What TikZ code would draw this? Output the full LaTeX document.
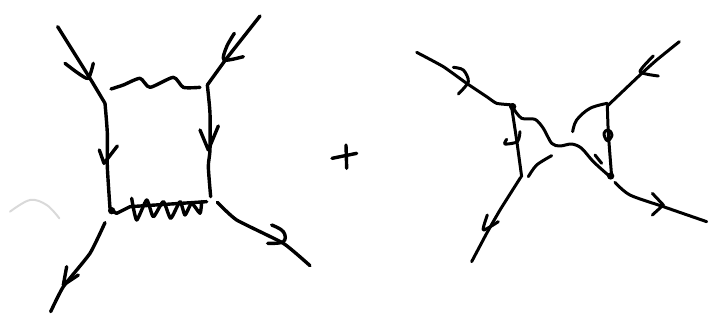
\documentclass[tikz,border=0pt]{standalone}
\tikzset{
  ink/.style={line width=3.4pt,line cap=round,line join=round,black},
  inkthin/.style={line width=3pt,line cap=round,line join=round,black},
  smudge/.style={line width=2pt,line cap=round,black!15},
  blob/.style={fill=black,draw=none},
}
\begin{document}
\begin{tikzpicture}[x=1pt,y=-1pt]
\useasboundingbox (0,0) rectangle (716,327);
% left diagram
\begin{scope}[scale=1/3]
\draw[smudge] plot[smooth,tension=.6] coordinates {(30,635) (90,600) (140,615) (178,655)};
\draw[ink] plot[smooth,tension=.2] coordinates {(173,80) (270,235) (315,310)};
\draw[ink] plot[smooth,tension=.4] coordinates {(195,190) (235,220) (265,235) (280,190)};
\draw[ink] plot[smooth,tension=.4] coordinates {(315,310) (322,400) (322,500) (330,625)};
\draw[ink] (352,438) -- (312,490) -- (298,450);
\draw[ink] plot[smooth,tension=.2] coordinates {(780,48) (680,175) (622,255)};
\draw[ink] plot[smooth,tension=.5] coordinates {(703,100) (680,140) (672,180) (730,170)};
\draw[ink] plot[smooth,tension=.4] coordinates {(622,255) (630,340) (630,450) (625,500) (632,590)};
\draw[ink] (600,390) -- (625,450) -- (655,378);
\draw[ink] plot[smooth,tension=.4] coordinates {(333,267) (370,255) (420,235) (450,262) (520,232) (550,262) (600,262)};
\draw[ink] (330,630) -- (350,640) -- (390,620) -- (620,605);
\draw[ink] plot[smooth,tension=.35] coordinates {(395,595) (410,660) (440,600) (460,650) (490,605) (512,655) (540,605) (555,645) (575,610) (600,640) (605,605)};
\fill[blob] (335,632) circle (11);
\draw[ink] plot[smooth,tension=.3] coordinates {(315,668) (270,760) (190,860) (152,935)};
\draw[ink] (200,800) -- (190,855) -- (235,825);
\draw[ink] plot[smooth,tension=.3] coordinates {(652,607) (710,660) (850,730) (930,797)};
\draw[ink] plot[smooth,tension=.7] coordinates {(815,675) (850,695) (850,725) (803,730)};
\end{scope}
% plus
\begin{scope}[shift={(320,130)},scale=1/3]
\draw[ink] (36,85) -- (110,70);
\draw[ink] (78,45) -- (80,115);
\end{scope}
% right diagram
\begin{scope}[shift={(400,20)},scale=1/3]
\draw[inkthin] plot[smooth,tension=.3] coordinates {(50,97) (130,140) (200,190) (260,230) (290,250) (340,255)};
\draw[inkthin] plot[smooth,tension=.5] coordinates {(160,142) (190,150) (205,185) (175,222)};
\fill[blob] (338,260) circle (11);
\draw[inkthin] (335,262) -- (350,360) -- (365,470);
\draw[inkthin] plot[smooth,tension=.5] coordinates {(360,335) (352,365) (315,372) (320,358)};
\draw[inkthin] plot[smooth,tension=.5] coordinates {(340,265) (365,295) (405,298) (430,325) (455,370) (480,378) (515,372) (545,385) (580,425) (630,470)};
\draw[inkthin] (585,405) -- (605,430);
\draw[inkthin] plot[smooth,tension=.5] coordinates {(385,470) (410,435) (455,407)};
\draw[inkthin] plot[smooth,tension=.2] coordinates {(362,472) (300,570) (260,640) (215,725)};
\draw[inkthin] plot[smooth,tension=.4] coordinates {(262,585) (250,630) (295,605)};
\draw[inkthin] plot[smooth,tension=.3] coordinates {(838,65) (770,120) (720,165) (622,258)};
\draw[inkthin] plot[smooth,tension=.4] coordinates {(760,108) (720,155) (775,168)};
\draw[inkthin] plot[smooth,tension=.6] coordinates {(622,250) (570,265) (530,300) (518,335)};
\draw[inkthin] plot[smooth,tension=.3] coordinates {(622,258) (625,340) (635,470)};
\draw[inkthin] plot[smooth cycle,tension=.7] coordinates {(612,340) (622,362) (636,345) (625,330)};
\fill[blob] (632,468) circle (11);
\draw[inkthin] plot[smooth,tension=.5] coordinates {(645,487) (690,525) (790,560) (920,605)};
\draw[inkthin] (757,520) -- (790,555) -- (757,585);
\end{scope}
\end{tikzpicture}
\end{document}
